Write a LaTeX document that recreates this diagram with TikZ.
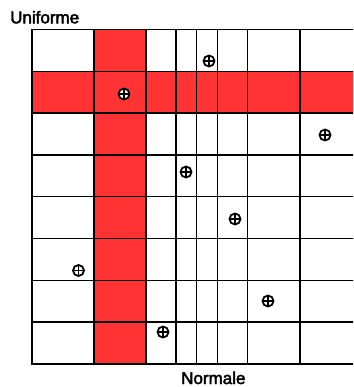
\documentclass[tikz,border=0pt]{standalone}
\usepackage{fontspec}
\setmainfont{Liberation Sans}
\newfontfamily\labelfont[FakeBold=2.5]{Liberation Sans}
\definecolor{cellred}{RGB}{255,51,51}
\begin{document}
\begin{tikzpicture}[x=1pt,y=-1pt,
  gridline/.style={black,line width=1.5pt},
  marker/.style={circle,draw,fill=white,line width=1.8pt,minimum size=11pt,inner sep=0pt,
    path picture={\draw[line width=1.5pt] (path picture bounding box.north) -- (path picture bounding box.south)
      (path picture bounding box.west) -- (path picture bounding box.east);}},
  axislabel/.style={font=\labelfont\fontsize{17}{20}\selectfont,inner sep=0pt,anchor=base west}]
\useasboundingbox (0,0) rectangle (353,387);
\clip (0,0) rectangle (353,387);
\fill[white] (0,0) rectangle (353,387);
\fill[cellred] (94,29.5) rectangle (146,364);
\fill[cellred] (32,71.3) rectangle (356,113.1);
\foreach \x in {32,94,146,176,196.7,217.7,247.3,300}
  \draw[gridline] (\x,29.5) -- (\x,364);
\foreach \y in {29.5,71.3,113.1,154.9,196.7,238.5,280.3,322.1,364}
  \draw[gridline] (31.25,\y) -- (356,\y);
\node[marker] (m1) at (209,61) {};
\node[marker] (m2) at (124,94) {};
\node[marker] (m3) at (325,135) {};
\node[marker] (m4) at (186,172) {};
\node[marker] (m5) at (235,219) {};
\node[marker] (m6) at (78.5,270.5) {};
\node[marker] (m7) at (268,301) {};
\node[marker] (m8) at (163,332) {};
\node[axislabel] (uni) at (10,23.3) {Uniforme};
\node[axislabel] (nor) at (181,384) {Normale};
\end{tikzpicture}
\end{document}
